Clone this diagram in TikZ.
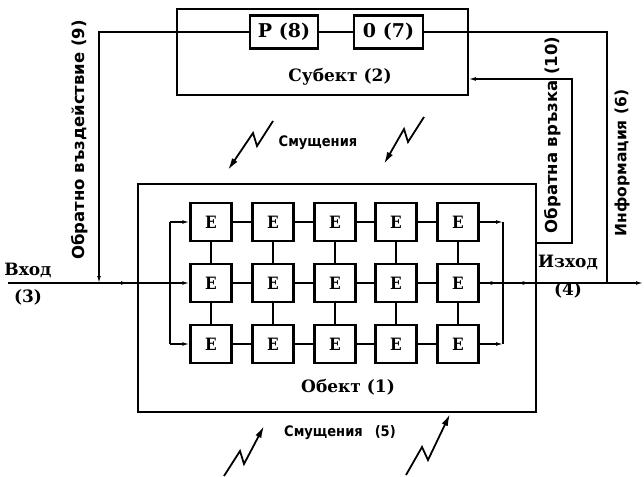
\documentclass[tikz,border=0pt]{standalone}
\usepackage{fontspec}
\usetikzlibrary{arrows.meta,decorations.markings}
\newfontfamily\serifb{DejaVu Serif Bold}
\newfontfamily\serifc{DejaVu Serif Condensed Bold}
\newfontfamily\sansc{DejaVu Sans Condensed Bold}
\newfontfamily\sansb{DejaVu Sans Bold}
\begin{document}
\begin{tikzpicture}[x=1pt,y=-1pt,
  conn/.style={line width=1.2pt},
  arr/.style={conn,-{Latex[length=7pt,width=3.8pt]}},
  bolt/.style={line width=1.8pt,line join=miter,-{Latex[length=12pt,width=6.5pt]}},
  midarr/.style={postaction={decorate,decoration={markings,mark=at position #1 with {\arrow{Latex[length=7pt,width=3.8pt]}}}}},
  ebox/.style={draw,line width=2.4pt,minimum width=41pt,minimum height=38pt,inner sep=0pt,font=\serifc\fontsize{17}{17}\selectfont},
  sbox/.style={draw,line width=2.4pt,minimum width=68pt,minimum height=33pt,inner sep=0pt,font=\serifb\fontsize{19}{19}\selectfont},
  lbl/.style={font=\serifb\fontsize{17}{17}\selectfont,inner sep=0pt},
  slbl/.style={font=\sansc\fontsize{14.5}{14.5}\selectfont,inner sep=0pt},
  rlbl/.style={font=\sansb\fontsize{16.5}{16.5}\selectfont,inner sep=0pt,rotate=90},
]
\useasboundingbox (0,0) rectangle (644,476);
% subject
\node[draw,line width=1.6pt,minimum width=291pt,minimum height=86pt,inner sep=0pt] (subj) at (322.5,52) {};
\node[sbox] (P) at (284,32) {P (8)};
\node[sbox,minimum width=69pt] (O) at (388.5,32) {0 (7)};
\draw[conn] (P) -- (O);
\node[lbl] (subjlbl) at (340,77) {Субект (2)};
% object
\node[draw,line width=2.6pt,minimum width=398pt,minimum height=228pt,inner sep=0pt] (obj) at (337,298) {};
\node[lbl] (objlbl) at (348,387) {Обект (1)};
% grid
\foreach \r/\y in {1/222,2/283,3/344}{
  \foreach \c/\x in {1/211,2/273,3/335,4/396,5/458}{
    \node[ebox] (e-\r-\c) at (\x,\y) {E};
  }
}
\foreach \r in {1,2,3}{
  \foreach \c/\d in {1/2,2/3,3/4,4/5}{
    \draw[conn] (e-\r-\c) -- (e-\r-\d);
  }
}
\foreach \c in {1,...,5}{
  \draw[conn] (e-1-\c) -- (e-2-\c);
  \draw[conn] (e-2-\c) -- (e-3-\c);
}
% distribution
\coordinate (dl1) at (170,222);
\coordinate (dl3) at (170,344);
\draw[conn] (dl1) -- (dl3);
\draw[arr] (dl1) -- (e-1-1);
\draw[arr] (dl3) -- (e-3-1);
\coordinate (in) at (8,283);
\draw[arr,midarr=120pt] (in) -- (e-2-1);
% collection
\coordinate (dr1) at (503,222);
\coordinate (dr3) at (503,344);
\draw[arr] (e-1-5) -- (dr1);
\draw[arr] (e-3-5) -- (dr3);
\draw[conn] (dr1) -- (dr3);
\coordinate (out) at (643,283);
\draw[arr,midarr=18pt,midarr=50pt] (e-2-5) -- (out);
% feedback action (9)
\coordinate (f9a) at (99,32);
\coordinate (f9b) at (99,283);
\draw[arr] (P.west) -- (f9a) -- (f9b);
% feedback (10)
\coordinate (f10a) at (536,243);
\coordinate (f10b) at (572,243);
\coordinate (f10c) at (572,79);
\draw[arr] (f10a) -- (f10b) -- (f10c) -- (subj.east |- f10c);
% information (6)
\coordinate (i6a) at (607,283);
\coordinate (i6b) at (607,32);
\draw[conn] (i6a) -- (i6b) -- (O.east);
% labels
\node[rlbl] (l9) at (80,140) {Обратно въздействие (9)};
\node[rlbl] (l10) at (553,135) {Обратна връзка (10)};
\node[rlbl,font=\sansb\fontsize{15.5}{15.5}\selectfont] (l6) at (622,163) {Информация (6)};
\node[lbl] (lin) at (28,270) {Вход};
\node[lbl] (lin3) at (28,297) {(3)};
\node[lbl] (lout) at (568,262) {Изход};
\node[lbl] (lout4) at (568,290) {(4)};
\node[slbl] (dist1) at (318,143) {Смущения};
\node[slbl] (dist5) at (340,433) {Смущения\hspace{12pt}(5)};
% disturbance bolts
\draw[bolt] (273,121) -- (257,146) -- (253,133) -- (228,170);
\draw[bolt] (424,117) -- (408,142) -- (404,129) -- (384,164);
\draw[bolt] (224,476) -- (240,451) -- (244,464) -- (264,426);
\draw[bolt] (406,475) -- (422,447) -- (428,460) -- (450,414);
\end{tikzpicture}
\end{document}
